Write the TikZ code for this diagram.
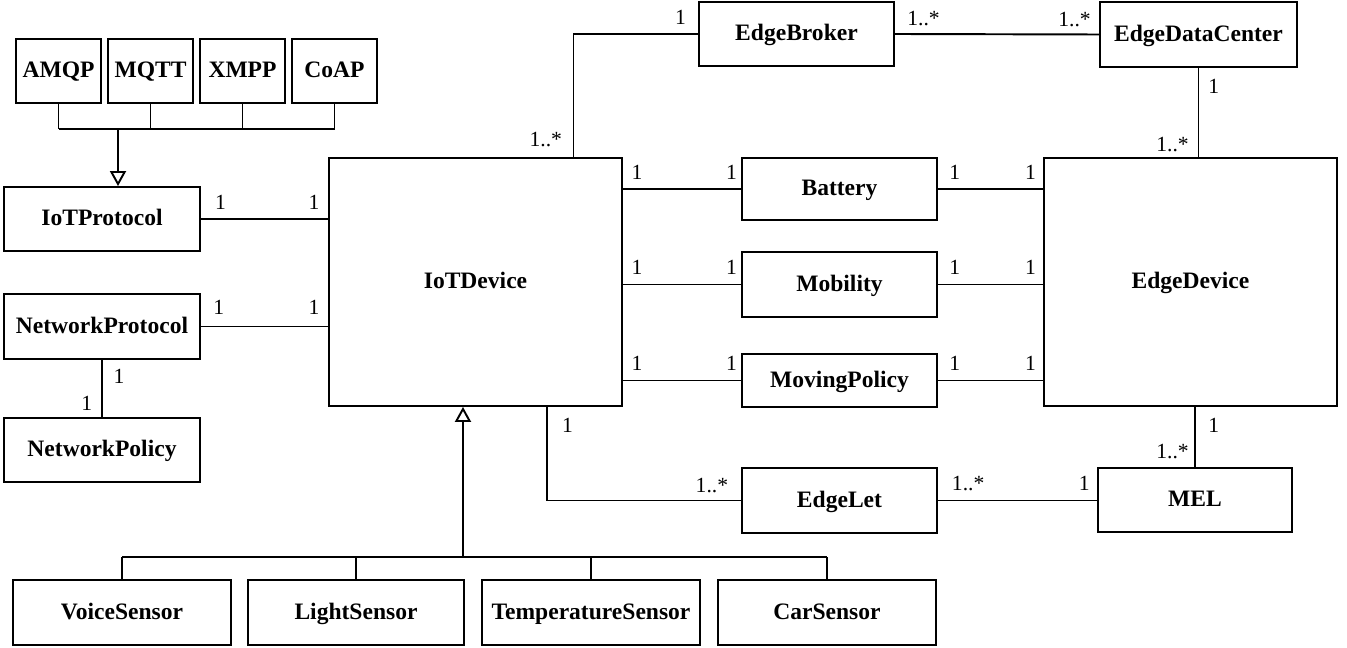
\documentclass[tikz,border=0pt]{standalone}
\usepackage{fontspec}
\setmainfont{Liberation Serif}
\usepackage{tikz}
\usetikzlibrary{arrows.meta,positioning}

\tikzset{
    cls/.style={draw, line width=1.1pt, inner sep=0pt, text height=0.78em, text depth=0pt, font=\fontsize{13.4}{16}\selectfont\bfseries},
    proto/.style={cls, minimum width=1.7cm, minimum height=1.28cm},
    side/.style={cls, minimum width=3.92cm, minimum height=1.28cm},
    mid/.style={cls, minimum width=3.9cm, minimum height=1.28cm},
    big/.style={cls, minimum width=5.86cm, minimum height=4.96cm},
    sensor/.style={cls, minimum width=4.36cm, minimum height=1.3cm},
    assoc/.style={line width=1.1pt},
    gen/.style={line width=1.1pt, -{Triangle[open,length=0.3cm,width=0.32cm]}},
    mult/.style={inner sep=0pt, font=\fontsize{12.3}{14}\selectfont}
}

\begin{document}
\begin{tikzpicture}[x=0.02cm,y=-0.02cm]
                                \useasboundingbox (0,0) rectangle (1347,648);
                                \node[proto] (amqp) at (58.5,71) {AMQP};
                                \node[proto] (mqtt) at (150.5,71) {MQTT};
                                \node[proto] (xmpp) at (242.5,71) {XMPP};
                                \node[proto] (coap) at (334.5,71) {CoAP};
                                \node[side] (iotprot) at (102,219) {IoTProtocol};
                                \node[side, minimum height=1.3cm] (netprot) at (102,326.5) {NetworkProtocol};
                                \node[side] (netpol) at (102,450) {NetworkPolicy};
                                \node[big] (iotdev) at (475.5,282) {IoTDevice};
                                \node[mid] (broker) at (796.5,34) {EdgeBroker};
                                \node[mid, minimum width=3.94cm, minimum height=1.3cm] (edc) at (1198.5,34.5) {EdgeDataCenter};
                                \node[mid, minimum height=1.24cm] (battery) at (839.5,189) {Battery};
                                \node[mid, minimum height=1.3cm] (mobility) at (839.5,284.5) {Mobility};
                                \node[mid, minimum height=1.06cm] (moving) at (839.5,380.5) {MovingPolicy};
                                \node[big] (edgedev) at (1190.5,282) {EdgeDevice};
                                \node[mid, minimum height=1.3cm] (edgelet) at (839.5,500.5) {EdgeLet};
                                \node[mid, minimum width=3.88cm] (mel) at (1195,500) {MEL};
                                \node[sensor] (voice) at (122,612.5) {VoiceSensor};
                                \node[sensor, minimum width=4.32cm] (light) at (356,612.5) {LightSensor};
                                \node[sensor] (temp) at (591,612.5) {TemperatureSensor};
                                \node[sensor] (car) at (827,612.5) {CarSensor};
                                \coordinate (pbus) at (118,129);
                                \coordinate (sbus) at (463,557);
                                \foreach \p in {amqp,mqtt,xmpp,coap}
                                    \draw[assoc] (\p.south) -- (\p.south |- pbus);
                                \draw[assoc] (amqp.south |- pbus) -- (coap.south |- pbus);
                                \draw[gen] (pbus) -- (pbus |- iotprot.north);
                                \foreach \s in {voice,light,temp,car}
                                    \draw[assoc] (\s.north) -- (\s.north |- sbus);
                                \draw[assoc] (voice.north |- sbus) -- (car.north |- sbus);
                                \draw[gen] (sbus) -- (sbus |- iotdev.south);
                                \draw[assoc] (iotprot.east) -- node[mult, pos=.155, above=5pt] {1} node[mult, pos=.89, above=5pt] {1} (iotprot.east -| iotdev.west);
                                \draw[assoc] (netprot.east) -- node[mult, pos=.14, above=6pt] {1} node[mult, pos=.89, above=6pt] {1} (netprot.east -| iotdev.west);
                                \draw[assoc] (netprot.south) -- node[mult, pos=.29, right=6pt] {1} node[mult, pos=.76, left=5pt] {1} (netpol.north);
                                \draw[assoc] (iotdev.north) ++(98,0) |- node[mult, pos=.07, left=6pt] {1..*} node[mult, pos=.93, above=5pt] {1} (broker.west);
                                \draw[assoc] (broker.east) -- node[mult, pos=.14, above=4pt] {1..*} node[mult, pos=.88, above=4pt] {1..*} (edc.west);
                                \draw[assoc] (edc.south) -- node[mult, pos=.21, right=5pt] {1} node[mult, pos=.86, left=5pt] {1..*} (edc.south |- edgedev.north);
                                \foreach \b in {battery,mobility,moving} {
                                    \draw[assoc] (\b.west -| iotdev.east) -- node[mult, pos=.12, above=5pt] {1} node[mult, pos=.92, above=5pt] {1} (\b.west);
                                    \draw[assoc] (\b.east) -- node[mult, pos=.16, above=5pt] {1} node[mult, pos=.88, above=5pt] {1} (\b.east -| edgedev.west);
                                }
                                \draw[assoc] (iotdev.south) ++(71.5,0) |- node[mult, pos=.1, right=8pt] {1} node[mult, pos=.925, above=4pt] {1..*} (edgelet.west);
                                \draw[assoc] (edgelet.east) -- node[mult, pos=.19, above=5pt] {1..*} node[mult, pos=.92, above=5pt] {1} (edgelet.east -| mel.west);
                                \draw[assoc] (mel.north) -- node[mult, pos=.26, left=3pt] {1..*} node[mult, pos=.69, right=7pt] {1} (mel.north |- edgedev.south);
                            \end{tikzpicture}
\end{document}
